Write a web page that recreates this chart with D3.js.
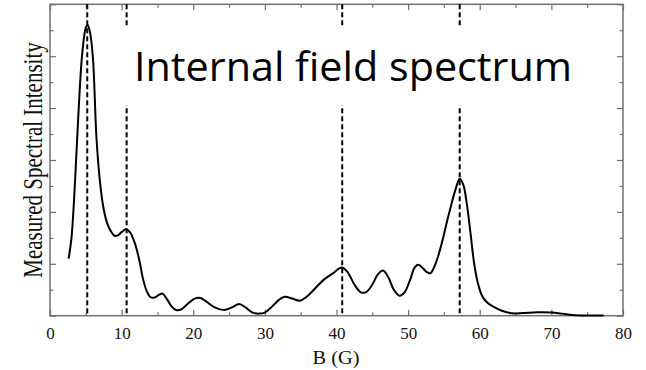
<!DOCTYPE html>
<html>
<head>
<meta charset="utf-8">
<script src="https://cdn.jsdelivr.net/npm/d3@7"></script>
<style>
  html, body { margin: 0; padding: 0; background: #fff; }
  svg { display: block; }
</style>
</head>
<body>
<svg id="chart" width="646" height="370"></svg>
<script>
// ---- data ----
const bField = [2.6, 3.0, 3.5, 4.0, 4.5, 5.0, 5.25, 5.6, 6.0, 6.5, 7.0, 7.5, 8.0, 8.5, 9.0, 9.5, 10.0, 10.6, 11.2, 11.9,
  12.5, 13.0, 13.5, 14.0, 14.6, 15.2, 15.7, 16.3, 17.0, 17.6, 18.3, 19.2, 20.2, 21.0, 21.8, 23.0, 24.3, 25.4, 26.4, 27.3,
  28.3, 29.2, 30.0, 31.0, 32.0, 32.8, 33.8, 34.9, 35.8, 37.0, 38.2, 39.5, 40.7, 41.5, 42.5, 43.4, 44.2, 45.0, 45.8, 46.5,
  47.2, 48.0, 48.8, 49.5, 50.3, 50.9, 51.4, 52.0, 52.6, 53.1, 53.6, 54.2, 54.8, 55.4, 56.0, 56.6, 57.2, 57.7, 58.2, 58.7,
  59.2, 59.7, 60.3, 61.0, 61.9, 63.0, 64.5, 66.0, 68.0, 70.0, 71.5, 73.0, 75.0, 77.3];
const intensity = [2.2, 3.0, 5.2, 7.95, 10.1, 11.1, 11.2, 10.9, 9.9, 6.8, 5.1, 4.1, 3.55, 3.25, 3.08, 3.1, 3.22, 3.33, 3.2, 2.75,
  2.1, 1.4, 0.95, 0.72, 0.7, 0.8, 0.85, 0.65, 0.35, 0.22, 0.24, 0.45, 0.66, 0.68, 0.55, 0.32, 0.22, 0.32, 0.45, 0.32,
  0.12, 0.08, 0.12, 0.35, 0.62, 0.73, 0.66, 0.58, 0.72, 1.05, 1.38, 1.63, 1.86, 1.7, 1.2, 0.9, 0.92, 1.2, 1.6, 1.74,
  1.5, 1.0, 0.77, 0.9, 1.4, 1.85, 1.96, 1.85, 1.68, 1.63, 1.85, 2.3, 2.9, 3.6, 4.25, 4.85, 5.28, 5.05, 4.3, 3.2,
  2.05, 1.3, 0.78, 0.52, 0.35, 0.2, 0.09, 0.1, 0.13, 0.12, 0.08, 0.03, 0.01, 0.01];
const markerLines = [5.2, 10.7, 40.8, 57.2];
const xMajorTicks = [0, 10, 20, 30, 40, 50, 60, 70, 80];
const xMinorTicks = [5, 15, 25, 35, 45, 55, 65, 75];
const yMajorTicks = [0, 2, 4, 6, 8, 10, 12];
const yMinorTicks = [1, 3, 5, 7, 9, 11];
const titleText = "Internal field spectrum";
const xLabel = "B (G)";
const yLabel = "Measured Spectral Intensity";

// ---- layout ----
const svg = d3.select("#chart");
const L = 50, R = 623, T = 4.3, B = 315.7;
const x = d3.scaleLinear().domain([0, 80]).range([L, R]);
const y = d3.scaleLinear().domain([0, 12]).range([B, T]);
const frameColor = "#707070";
const serif = "'Liberation Serif', 'Times New Roman', serif";

// frame
svg.append("rect").attr("x", L).attr("y", T).attr("width", R - L).attr("height", B - T)
  .attr("fill", "none").attr("stroke", frameColor).attr("stroke-width", 1.5);

function styleAxis(g) {
  g.select(".domain").remove();
  g.selectAll(".tick line").attr("stroke", frameColor).attr("stroke-width", 1.2);
}

// bottom axis
const gB = svg.append("g").attr("transform", `translate(0,${B})`)
  .call(d3.axisBottom(x).tickValues(xMajorTicks).tickSizeInner(-6).tickSizeOuter(0).tickPadding(11).tickFormat(d3.format("d")));
styleAxis(gB);
gB.selectAll(".tick text").attr("font-family", serif).attr("font-size", 17).attr("fill", "#111");
svg.append("g").attr("transform", `translate(0,${B})`)
  .call(d3.axisBottom(x).tickValues(xMinorTicks).tickSizeInner(-3.5).tickSizeOuter(0).tickFormat(""))
  .call(styleAxis);
// top axis
svg.append("g").attr("transform", `translate(0,${T})`)
  .call(d3.axisTop(x).tickValues(xMajorTicks).tickSizeInner(-6).tickSizeOuter(0).tickFormat(""))
  .call(styleAxis);
svg.append("g").attr("transform", `translate(0,${T})`)
  .call(d3.axisTop(x).tickValues(xMinorTicks).tickSizeInner(-3.5).tickSizeOuter(0).tickFormat(""))
  .call(styleAxis);
// left axis
svg.append("g").attr("transform", `translate(${L},0)`)
  .call(d3.axisLeft(y).tickValues(yMajorTicks).tickSizeInner(-6).tickSizeOuter(0).tickFormat(""))
  .call(styleAxis);
svg.append("g").attr("transform", `translate(${L},0)`)
  .call(d3.axisLeft(y).tickValues(yMinorTicks).tickSizeInner(-3.5).tickSizeOuter(0).tickFormat(""))
  .call(styleAxis);
// right axis
svg.append("g").attr("transform", `translate(${R},0)`)
  .call(d3.axisRight(y).tickValues(yMajorTicks).tickSizeInner(-6).tickSizeOuter(0).tickFormat(""))
  .call(styleAxis);
svg.append("g").attr("transform", `translate(${R},0)`)
  .call(d3.axisRight(y).tickValues(yMinorTicks).tickSizeInner(-3.5).tickSizeOuter(0).tickFormat(""))
  .call(styleAxis);

// dashed marker lines
svg.append("g").selectAll("line").data(markerLines).join("line")
  .attr("x1", d => x(d)).attr("x2", d => x(d))
  .attr("y1", T).attr("y2", B)
  .attr("stroke", "#000").attr("stroke-width", 2).attr("stroke-dasharray", "5,3");

// white title box (hides the dashed lines behind the title)
svg.append("rect").attr("x", 100).attr("y", 27).attr("width", 500).attr("height", 78).attr("fill", "#fff");

// curve
const pts = bField.map((b, i) => [b, intensity[i]]);
const line = d3.line().x(d => x(d[0])).y(d => y(d[1])).curve(d3.curveCatmullRom.alpha(0.5));
svg.append("path").datum(pts).attr("d", line)
  .attr("fill", "none").attr("stroke", "#000").attr("stroke-width", 2).attr("stroke-linejoin", "round");

// title
const title = svg.append("text").attr("x", 134).attr("y", 81)
  .attr("font-family", "'Open Sans', Lato, sans-serif").attr("font-size", 40).attr("fill", "#000")
  .text(titleText);
const tw = title.node().getComputedTextLength();
if (Math.abs(tw - 438) > 2) title.attr("textLength", 438).attr("lengthAdjust", "spacingAndGlyphs");

// axis labels
svg.append("text").attr("transform", "translate(336,363.5) scale(1.1,1)").attr("text-anchor", "middle")
  .attr("font-family", serif).attr("font-size", 18.5).attr("fill", "#111").text(xLabel);
const yl = svg.append("text").attr("transform", "translate(41.5,160) scale(1.3,1) rotate(-90)").attr("text-anchor", "middle")
  .attr("font-family", serif).attr("font-size", 21).attr("fill", "#111").text(yLabel);
const yw = yl.node().getComputedTextLength();
if (Math.abs(yw - 234) > 3) yl.attr("textLength", 234).attr("lengthAdjust", "spacingAndGlyphs");
</script>
</body>
</html>
